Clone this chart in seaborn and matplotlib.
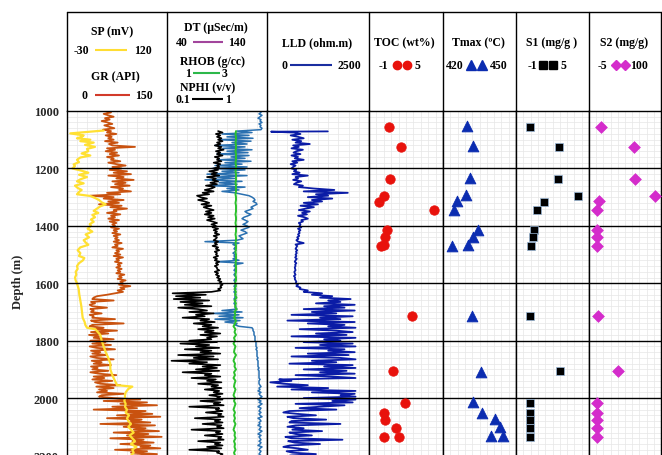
import numpy as np
import matplotlib
matplotlib.use("Agg")
import matplotlib.pyplot as plt
import seaborn as sns

sns.set_theme(style="white")
plt.rcParams['font.family'] = ['Liberation Serif', 'DejaVu Serif']

# ---------------- well log curves ----------------
# Gamma ray (API), 5 m sampling from 1000 m
gr_depth = np.arange(1000, 2201, 5)
gr = [58, 66, 55, 62, 70, 57, 64, 52, 61, 68,
      56, 63, 71, 54, 66, 60, 74, 58, 67, 62,
      70, 57, 76, 63, 68, 102, 60, 72, 58, 75,
      64, 78, 60, 70, 66, 80, 62, 74, 88, 68,
      82, 64, 90, 70, 96, 62, 85, 74, 100, 68,
      88, 72, 94, 66, 84, 78, 96, 60, 80, 35,
      70, 55, 85, 62, 78, 48, 82, 65, 90, 70,
      74, 60, 80, 66, 72, 62, 78, 64, 74, 68,
      72, 66, 78, 70, 75, 68, 80, 70, 76, 72,
      78, 70, 82, 72, 76, 68, 84, 74, 78, 72,
      80, 70, 84, 74, 78, 72, 82, 76, 80, 74,
      82, 76, 80, 74, 86, 78, 82, 76, 88, 80,
      84, 78, 95, 80, 86, 76, 84, 72, 60, 45,
      40, 38, 70, 36, 42, 34, 38, 60, 35, 40,
      36, 52, 34, 40, 38, 72, 36, 42, 85, 38,
      34, 55, 40, 75, 36, 62, 33, 48, 40, 70,
      35, 58, 38, 66, 34, 44, 72, 36, 50, 38,
      60, 35, 44, 70, 37, 52, 40, 66, 36, 46,
      38, 62, 35, 48, 74, 40, 56, 38, 68, 42,
      50, 80, 44, 70, 48, 60, 45, 85, 52, 48,
      70, 110, 55, 120, 80, 135, 68, 105, 40, 118,
      90, 128, 75, 140, 60, 112, 95, 125, 50, 132,
      85, 118, 100, 138, 70, 122, 90, 142, 65, 115,
      98, 130, 80, 125, 110, 140, 72, 120, 96, 135,
      100]

# Spontaneous potential (mV)
sp_depth = [1068, 1072, 1078, 1085, 1090, 1095, 1100, 1105, 1110, 1118,
            1125, 1132, 1140, 1148, 1155, 1162, 1170, 1178, 1186, 1192,
            1200, 1208, 1215, 1222, 1230, 1238, 1245, 1252, 1260, 1268,
            1275, 1282, 1290, 1296, 1303, 1310, 1318, 1325, 1332, 1340,
            1348, 1355, 1362, 1370, 1378, 1386, 1394, 1400, 1410, 1420,
            1430, 1440, 1450, 1458, 1466, 1475, 1485, 1495, 1505, 1512,
            1520, 1530, 1540, 1550, 1560, 1570, 1580, 1590, 1600, 1620,
            1640, 1660, 1680, 1700, 1720, 1735, 1745, 1755, 1760, 1780,
            1800, 1820, 1840, 1860, 1880, 1900, 1920, 1940, 1955, 1960,
            1968, 1980, 1990, 2000, 2010, 2020, 2030, 2040, 2050, 2060,
            2070, 2080, 2090, 2100, 2110, 2120, 2130, 2140, 2150, 2160,
            2170, 2180, 2190, 2200]
sp = [25, 5, -25, -5, -8, -15, 5, -10, 10, -3,
      12, 0, 2, -8, 5, -10, -15, -12, -20, -18,
      -22, -8, 2, -12, 0, -10, -15, -5, -18, -14,
      -8, -12, -15, 5, 12, 18, 22, 28, 20, 15,
      10, 17, 8, 12, 6, 10, 4, 6, 1, 8,
      -2, 3, -5, -2, 2, -10, -14, -10, -12, -4,
      -6, -12, -15, -14, -17, -16, -18, -17, -15, -12.5,
      -11.5, -10, -8.5, -7.5, -6.5, -3.5, -2.5, 0, 12.5, 20,
      22, 25, 28, 32, 35, 35, 38, 42, 45, 68,
      62, 58, 57, 57, 56, 58, 57, 60, 58, 63,
      60, 62, 66, 62, 66, 70, 64, 68, 72, 66,
      74, 68, 70, 66]

# Neutron porosity (v/v), 5 m sampling from 1070 m
nphi_depth = np.arange(1070, 2201, 5)
nphi = [0.56, 0.60, 0.54, 0.58, 0.55, 0.59,
        0.56, 0.60, 0.55, 0.58, 0.53, 0.59, 0.56, 0.61, 0.54, 0.58,
        0.55, 0.60, 0.53, 0.57, 0.55, 0.59, 0.52, 0.58, 0.55, 0.57,
        0.52, 0.56, 0.48, 0.55, 0.50, 0.57, 0.46, 0.54, 0.51, 0.56,
        0.49, 0.55, 0.45, 0.53, 0.50, 0.44, 0.52, 0.42, 0.48, 0.37,
        0.40, 0.46, 0.38, 0.44, 0.48, 0.41, 0.50, 0.43, 0.47, 0.52,
        0.45, 0.50, 0.44, 0.52, 0.47, 0.53, 0.46, 0.51, 0.55, 0.50,
        0.54, 0.51, 0.56, 0.52, 0.55, 0.53, 0.57, 0.52, 0.55, 0.54,
        0.52, 0.56, 0.53, 0.55, 0.51, 0.56, 0.54, 0.57, 0.53, 0.55,
        0.54, 0.56, 0.52, 0.55, 0.53, 0.57, 0.54, 0.56, 0.53, 0.55,
        0.55, 0.57, 0.53, 0.56, 0.54, 0.57, 0.55, 0.58, 0.56, 0.59,
        0.57, 0.60, 0.58, 0.59, 0.56, 0.58, 0.50, 0.15, 0.45, 0.18,
        0.40, 0.16, 0.48, 0.22, 0.42, 0.26, 0.50, 0.20, 0.38, 0.46,
        0.30, 0.52, 0.36, 0.44, 0.24, 0.48, 0.40, 0.53, 0.34, 0.50,
        0.42, 0.56, 0.38, 0.52, 0.44, 0.58, 0.40, 0.55, 0.46, 0.50,
        0.30, 0.55, 0.22, 0.48, 0.36, 0.57, 0.26, 0.50, 0.40, 0.58,
        0.20, 0.52, 0.34, 0.56, 0.14, 0.46, 0.30, 0.58, 0.42, 0.55,
        0.36, 0.57, 0.24, 0.50, 0.44, 0.58, 0.32, 0.54, 0.46, 0.59,
        0.38, 0.56, 0.50, 0.59, 0.44, 0.57, 0.52, 0.60, 0.48, 0.58,
        0.55, 0.60, 0.40, 0.58, 0.52, 0.61, 0.30, 0.57, 0.54, 0.60,
        0.45, 0.59, 0.56, 0.61, 0.35, 0.58, 0.53, 0.60, 0.42, 0.59,
        0.55, 0.61, 0.32, 0.58, 0.54, 0.60, 0.44, 0.59, 0.56, 0.61,
        0.38, 0.58, 0.53, 0.60, 0.46, 0.59, 0.30, 0.57, 0.55, 0.60,
        0.58]

# Sonic transit time (uSec/m), 5 m sampling from 1000 m
dt_depth = np.arange(1000, 2201, 5)
dt = [133, 134, 132, 135, 133, 131, 134, 133, 135, 132, 134, 133, 135, 134,
      110,
      125, 95, 122, 100, 126,
      92, 124, 105, 120, 88, 118, 96, 125, 100, 121,
      90, 122, 104, 118, 92, 124, 98, 115, 88, 120,
      85, 118, 95, 112, 80, 120, 90, 108, 78, 115,
      92, 110, 82, 118, 100, 112, 95, 108, 115, 122,
      125, 127, 128, 126, 129, 130, 127, 124, 126, 122,
      118, 120, 124, 121, 117, 115, 118, 121, 119, 116,
      120, 122, 118, 114, 118, 120, 116, 112, 114, 116,
      110, 78, 112, 106, 109, 108, 107, 109, 108, 106,
      108, 107, 109, 106, 112, 90, 116, 108, 107, 109,
      108, 107, 109, 108, 107, 108, 109, 108, 107, 108,
      108, 109, 107, 108, 109, 108, 107, 108, 109, 108,
      108, 107, 109, 108, 107, 108, 109, 108, 110, 95,
      115, 86, 112, 92, 116, 88, 113, 98, 110, 108,
      112, 125, 126, 126, 127, 127, 127, 128, 128, 128,
      128, 129, 129, 129, 129, 130, 129, 130, 130, 130,
      130, 130, 131, 130, 131, 131, 131, 131, 131, 132,
      131, 132, 132, 132, 132, 132, 132, 133, 132, 132,
      132, 133, 134, 132, 133, 131, 134, 132, 133, 135,
      133, 131, 134, 132, 135, 133, 131, 134, 133, 132,
      134, 132, 133, 135, 131, 133, 134, 132, 133, 131,
      134, 133, 132, 135, 133, 131, 134, 132, 133, 134,
      132, 134, 133, 131, 135, 133, 132, 134, 133, 132,
      134]

# Bulk density (g/cc), 10 m sampling from 1070 m
rhob_depth = np.arange(1070, 2201, 10)
rhob = [2.38, 2.37, 2.38, 2.38, 2.37, 2.38, 2.38, 2.37, 2.38, 2.38,
        2.38, 2.37, 2.38, 2.38, 2.37, 2.38, 2.38, 2.38, 2.37, 2.38,
        2.38, 2.38, 2.37, 2.38, 2.38, 2.37, 2.38, 2.38, 2.38, 2.37,
        2.38, 2.38, 2.37, 2.38, 2.38, 2.38, 2.37, 2.38, 2.38, 2.37,
        2.38, 2.38, 2.37, 2.38, 2.38, 2.38, 2.37, 2.38, 2.38, 2.38,
        2.37, 2.38, 2.38, 2.36, 2.38, 2.35, 2.38, 2.36, 2.39, 2.35,
        2.38, 2.36, 2.39, 2.35, 2.37, 2.34, 2.38, 2.36, 2.33, 2.37,
        2.35, 2.38, 2.34, 2.36, 2.33, 2.37, 2.35, 2.34, 2.38, 2.35,
        2.33, 2.36, 2.35, 2.38, 2.34, 2.36, 2.33, 2.37, 2.35, 2.34,
        2.37, 2.35, 2.33, 2.36, 2.34, 2.37, 2.35, 2.33, 2.36, 2.34,
        2.36, 2.34, 2.37, 2.35, 2.33, 2.36, 2.35, 2.37, 2.34, 2.36,
        2.35, 2.37, 2.34, 2.36]

# Deep laterolog resistivity (ohm.m)
lld_depth = np.concatenate([[1071, 1072], np.arange(1075, 2201, 5)])
lld = [1490, 100,
       650, 820, 580, 760, 900,
       620, 840, 700, 1050, 640, 780, 600, 880, 720, 650,
       820, 600, 760, 680, 900, 620, 740, 580, 700, 640,
       600, 720, 660, 800, 620, 1000, 700, 760, 640, 840,
       720, 660, 880, 780, 1150, 1650, 900, 1980, 1200, 1500,
       1000, 1600, 1100, 1350, 900, 1250, 820, 1150, 950, 780,
       1050, 860, 980, 760, 920, 1000, 840, 880, 780, 820,
       800, 840, 760, 820, 780, 800, 760, 790, 740, 770,
       720, 760, 900, 700, 740, 720, 700, 740, 710, 730,
       700, 720, 690, 730, 700, 680, 720, 690, 700, 680,
       690, 700, 670, 680, 700, 660, 690, 680, 700, 720,
       700, 760, 720, 820, 800, 1000, 900, 1350, 1100, 1600,
       1300, 2050, 1500, 1800, 1200, 2150, 1400, 1900, 900, 2150,
       1100, 1700, 600, 2100, 1300, 1800, 500, 2150, 1000, 1900,
       1500, 2170, 800, 1700, 2100, 1200, 1950, 600, 2170, 1400,
       1800, 900, 2100, 1300, 2170, 700, 1900, 1500, 2150, 1000,
       2000, 600, 1800, 2170, 1100, 1700, 550, 2100, 1400, 2170,
       900, 1950, 1300, 2150, 700, 1600, 2170, 300, 600, 80,
       400, 1000, 250, 1500, 600, 2170, 1100, 2150, 1800, 2170,
       900, 2170, 1600, 2100, 700, 1900, 1300, 800, 1700, 550,
       400, 750, 1200, 500, 650, 1450, 600, 550, 1800, 700,
       500, 900, 620, 1350, 550, 700, 1100, 450, 600, 1850,
       520, 680, 1300, 560, 400, 750, 1000, 480, 620, 1200,
       560]

# ---------------- core / Rock-Eval samples ----------------
toc_depth = [1055, 1126, 1237, 1295, 1318, 1345, 1415, 1440, 1467, 1471,
             1714, 1907, 2016, 2053, 2075, 2103, 2135, 2135]
toc = [0.65, 1.6, 0.7, 0.24, -0.19, 4.25, 0.43, 0.3, 0.24, -0.03,
       2.46, 0.92, 1.95, 0.24, 0.3, 1.16, 0.24, 1.43]

tmax_depth = [1051, 1123, 1235, 1292, 1313, 1344, 1413, 1440, 1466, 1469,
              1713, 1908, 2015, 2052, 2073, 2102, 2131, 2131]
tmax = [430, 432.2, 431.2, 429.3, 425.6, 424.7, 434.3, 432.5, 430.2, 423.8,
        432, 435.5, 432.2, 436, 441.4, 443.5, 439.8, 444.6]

s1_depth = [1055, 1126, 1237, 1295, 1318, 1345, 1415, 1440, 1469, 1714,
            1907, 2016, 2053, 2075, 2103, 2135]
s1 = [0.18, 2.51, 2.45, 4.1, 1.33, 0.73, 0.48, 0.43, 0.2, 0.12,
      2.64, 0.18, 0.18, 0.18, 0.18, 0.18]

s2_depth = [1055, 1126, 1237, 1295, 1313, 1345, 1413, 1440, 1469, 1714,
            1907, 2016, 2053, 2075, 2103, 2135]
s2 = [12.9, 60.6, 62.5, 91.7, 10, 6.2, 7, 7, 6.2, 7.5,
      37.3, 6.2, 6.2, 6.2, 6.2, 6.2]

depth_ticks = [1000, 1200, 1400, 1600, 1800, 2000, 2200]

# ---------------- colours ----------------
C_GR, C_SP = "#c9520f", "#ffe033"
C_DT, C_RHOB, C_NPHI = "#2a70b0", "#2cc02c", "#000000"
C_LLD = "#0b1ca6"
C_TOC, C_TMAX, C_S1, C_S2 = "#e8120c", "#0b2cb0", "#000000", "#d42ccb"

# ---------------- layout (pixels) ----------------
W, H = 662, 456
fig = plt.figure(figsize=(W / 100, H / 100), dpi=100)
edges = [67, 167, 267, 369, 443, 516, 589, 661]
top_px, bot_px, head_px = 112, 458, 13
px_per_m = 0.2871
dmax = 1000 + (bot_px - top_px) / px_per_m

xlims = [(0, 150), (0, 1), (0, 2500), (-1, 5), (420, 450), (-1, 5), (-5, 100)]

axes = []
for i in range(7):
    x0, x1 = edges[i], edges[i + 1]
    ax = fig.add_axes([x0 / W, 1 - bot_px / H, (x1 - x0) / W, (bot_px - top_px) / H])
    lo, hi = xlims[i]
    ax.set_xlim(lo, hi)
    ax.set_ylim(dmax, 1000)
    ax.set_facecolor("white")
    for d in np.arange(1020, 2200, 20):
        ax.axhline(d, color="#e6e6e6", lw=0.5, zorder=0)
    for v in np.linspace(lo, hi, 11)[1:-1]:
        ax.axvline(v, color="#e6e6e6", lw=0.5, zorder=0)
    for d in depth_ticks[1:]:
        ax.axhline(d, color="black", lw=1.0, zorder=5)
    ax.set_xticks([])
    ax.set_yticks([])
    for s in ax.spines.values():
        s.set_color("black")
        s.set_linewidth(1.0)
    axes.append(ax)

# Track 1: GR and SP (SP shares the 0-150 width on a -30..120 scale)
ax = axes[0]
sns.lineplot(x=gr, y=gr_depth, sort=False, estimator=None, ax=ax,
             color=C_GR, lw=1.3, legend=False)
sns.lineplot(x=np.array(sp) + 30, y=sp_depth, sort=False, estimator=None, ax=ax,
             color=C_SP, lw=1.6, legend=False)
ax.set_yticks(depth_ticks)
ax.set_yticklabels([str(d) for d in depth_ticks], fontsize=9, fontweight="bold")
ax.tick_params(axis="y", length=0, pad=6)

# Track 2: DT, RHOB, NPHI on normalised width
ax = axes[1]
sns.lineplot(x=(np.array(dt) - 40) / 100, y=dt_depth, sort=False, estimator=None,
             ax=ax, color=C_DT, lw=1.1, legend=False)
sns.lineplot(x=(np.array(nphi) - 0.1) / 0.9, y=nphi_depth, sort=False, estimator=None,
             ax=ax, color=C_NPHI, lw=1.2, legend=False)
sns.lineplot(x=(np.array(rhob) - 1) / 2, y=rhob_depth, sort=False, estimator=None,
             ax=ax, color=C_RHOB, lw=1.4, legend=False)

# Track 3: LLD
sns.lineplot(x=lld, y=lld_depth, sort=False, estimator=None, ax=axes[2],
             color=C_LLD, lw=1.3, legend=False)

# Tracks 4-7: sample points
sns.scatterplot(x=toc, y=toc_depth, ax=axes[3], marker="o", s=46,
                color=C_TOC, edgecolor=C_TOC, zorder=6, legend=False)
sns.scatterplot(x=tmax, y=tmax_depth, ax=axes[4], marker="^", s=60,
                color=C_TMAX, edgecolor=C_TMAX, zorder=6, legend=False)
sns.scatterplot(x=s1, y=s1_depth, ax=axes[5], marker="s", s=32,
                color=C_S1, edgecolor="#9ab8d8", linewidth=0.5, zorder=6, legend=False)
sns.scatterplot(x=s2, y=s2_depth, ax=axes[6], marker="D", s=36,
                color=C_S2, edgecolor=C_S2, zorder=6, legend=False)
for ax in axes:
    ax.set_xlabel("")
    ax.set_ylabel("")

# ---------------- header boxes ----------------
hd = fig.add_axes([0, 0, 1, 1], zorder=10)
hd.set_xlim(0, W)
hd.set_ylim(H, 0)
hd.axis("off")
hd.plot([edges[0], edges[-1]], [head_px, head_px], color="black", lw=1.0)
for x in edges:
    hd.plot([x, x], [head_px, top_px], color="black", lw=1.0)

tkw = dict(ha="center", va="center", fontsize=8.5, fontweight="bold", color="black")


def label(x, y, s):
    hd.text(x, y, s, **tkw)


def swatch(x0, x1, y, color):
    hd.plot([x0, x1], [y, y], color=color, lw=1.5, solid_capstyle="butt")


label(112, 32, "SP (mV)")
label(81, 51, "-30"); swatch(95, 127, 51, "#ffdd33"); label(143, 51, "120")
label(115, 77, "GR (API)")
label(85, 96, "0"); swatch(95, 130, 96, "#d23a2a"); label(144, 96, "150")

label(216, 28, "DT (\u00b5Sec/m)")
label(182, 43, "40"); swatch(193, 223, 43, "#a2459c"); label(237, 43, "140")
label(213, 62, "RHOB (g/cc)")
label(188, 74, "1"); swatch(193, 220, 74, "#2cb84a"); label(225, 74, "3")
label(208, 88, "NPHI (v/v)")
label(183, 100, "0.1"); swatch(192, 223, 100, "black"); label(228, 100, "1")

label(317, 43, "LLD (ohm.m)")
label(285, 66, "0"); swatch(290, 332, 66, "#1a2ea0"); label(349, 66, "2500")

label(404, 43, "TOC (wt%)")
label(383, 66, "-1"); label(417, 66, "5")
hd.plot([397, 407], [66, 66], ls="none", marker="o", ms=6, color=C_TOC)

label(478, 43, "Tmax (\u00baC)")
label(455, 66, "420"); label(499, 66, "450")
hd.plot([471, 482], [65.5, 65.5], ls="none", marker="^", ms=6.5, color=C_TMAX)

label(552, 43, "S1 (mg/g )")
label(532, 66, "-1"); label(563, 66, "5")
hd.plot([543, 553], [66, 66], ls="none", marker="s", ms=5.5, color=C_S1)

label(624, 43, "S2 (mg/g)")
label(602, 66, "-5"); label(639, 66, "100")
hd.plot([616, 625], [66, 66], ls="none", marker="D", ms=5, color=C_S2)

fig.text(18 / W, 1 - 282 / H, "Depth (m)", rotation=90, ha="center", va="center",
         fontsize=9, fontweight="bold")

fig.savefig("out.png", dpi=100)
